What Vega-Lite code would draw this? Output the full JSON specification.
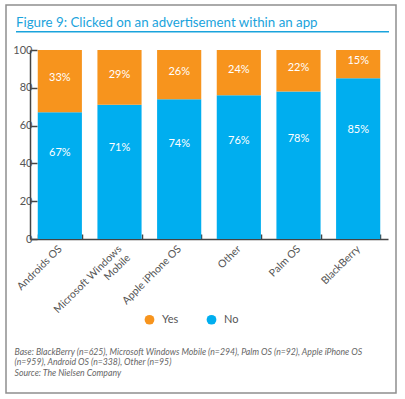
{
  "$schema": "https://vega.github.io/schema/vega-lite/v6.json",
  "width": 390,
  "height": 388,
  "autosize": {"type": "none"},
  "padding": {"left": 6, "top": 5, "right": 9, "bottom": 6},
  "background": "white",
  "title": {
    "text": "Figure 9: Clicked on an advertisement within an app",
    "anchor": "start",
    "frame": "group",
    "orient": "top",
    "offset": 0,
    "dx": 10,
    "dy": 35.5,
    "baseline": "alphabetic",
    "font": "Lato",
    "fontSize": 13.3,
    "fontWeight": "normal",
    "color": "#1AA3DC"
  },
  "config": {
    "view": {"stroke": "#8f8f8f", "strokeWidth": 1.5},
    "font": "Lato"
  },
  "datasets": {
    "survey": [
      {"os": "Androids OS", "answer": "No", "pct": 67},
      {"os": "Androids OS", "answer": "Yes", "pct": 33},
      {"os": "Microsoft Windows Mobile", "answer": "No", "pct": 71},
      {"os": "Microsoft Windows Mobile", "answer": "Yes", "pct": 29},
      {"os": "Apple iPhone OS", "answer": "No", "pct": 74},
      {"os": "Apple iPhone OS", "answer": "Yes", "pct": 26},
      {"os": "Other", "answer": "No", "pct": 76},
      {"os": "Other", "answer": "Yes", "pct": 24},
      {"os": "Palm OS", "answer": "No", "pct": 78},
      {"os": "Palm OS", "answer": "Yes", "pct": 22},
      {"os": "BlackBerry", "answer": "No", "pct": 85},
      {"os": "BlackBerry", "answer": "Yes", "pct": 15}
    ]
  },
  "resolve": {"scale": {"x": "independent"}},
  "layer": [
    {
      "data": {"name": "survey"},
      "layer": [
        {
          "mark": {"type": "bar"},
          "encoding": {
            "x": {
              "field": "os",
              "type": "nominal",
              "sort": null,
              "scale": {"range": [24, 382], "paddingInner": 0.26, "paddingOuter": 0.13},
              "axis": {
                "orient": "bottom",
                "offset": -154,
                "tickBand": "extent",
                "tickSize": -5,
                "tickColor": "#444",
                "tickWidth": 1.5,
                "domainColor": "#444",
                "domainWidth": 1.5,
                "labelAngle": -45,
                "labelAlign": "right",
                "labelBaseline": "middle",
                "labelPadding": 13,
                "labelColor": "#555",
                "labelFontSize": 10.5,
                "labelExpr": "datum.label == 'Microsoft Windows Mobile' ? ['Microsoft Windows', 'Mobile'] : datum.label",
                "title": [
                  "Base: BlackBerry (n=625), Microsoft Windows Mobile (n=294), Palm OS (n=92), Apple iPhone OS",
                  "(n=959), Android OS (n=338), Other (n=95)",
                  "Source: The Nielsen Company"
                ],
                "titleX": 8,
                "titleY": 108,
                "titleAngle": 0,
                "titleAlign": "left",
                "titleAnchor": "start",
                "titleBaseline": "top",
                "titleFont": "Lato",
                "titleFontStyle": "italic",
                "titleFontWeight": "normal",
                "titleFontSize": 8.7,
                "titleColor": "#666",
                "titleLineHeight": 10.8
              }
            },
            "y": {
              "field": "pct",
              "type": "quantitative",
              "stack": "zero",
              "scale": {"domain": [0, 100], "range": [234, 45], "nice": false},
              "axis": {
                "orient": "left",
                "offset": -24,
                "values": [0, 20, 40, 60, 80, 100],
                "tickSize": -7,
                "tickColor": "#444",
                "tickWidth": 1.5,
                "domainColor": "#444",
                "domainWidth": 1.5,
                "labelPadding": 5,
                "labelColor": "#555",
                "labelFontSize": 11,
                "grid": false,
                "title": null
              }
            },
            "color": {
              "field": "answer",
              "type": "nominal",
              "scale": {"domain": ["Yes", "No"], "range": ["#F7941D", "#00AEEF"]},
              "legend": {
                "orient": "none",
                "legendX": 138,
                "legendY": 309,
                "direction": "horizontal",
                "title": null,
                "symbolType": "circle",
                "symbolSize": 95,
                "symbolStrokeWidth": 0,
                "labelFontSize": 11,
                "labelColor": "#555",
                "columnPadding": 27,
                "labelOffset": 7
              }
            },
            "order": {"field": "answer", "sort": "ascending"}
          }
        },
        {
          "transform": [
            {"calculate": "datum.answer == 'No' ? datum.pct * 0.68 : 100 - datum.pct / 2 + 1.5", "as": "labelY"},
            {"calculate": "datum.pct + '%'", "as": "label"}
          ],
          "mark": {"type": "text", "color": "white", "fontSize": 11, "font": "Lato", "baseline": "middle"},
          "encoding": {
            "x": {"field": "os", "type": "nominal", "sort": null},
            "y": {"field": "labelY", "type": "quantitative", "stack": null},
            "text": {"field": "label", "type": "nominal"}
          }
        }
      ]
    },
    {
      "data": {"values": [{}]},
      "mark": {"type": "rule", "color": "#1AA3DC", "strokeWidth": 1.5},
      "encoding": {
        "x": {"datum": 0, "type": "quantitative", "scale": {"domain": [0, 1], "range": [10, 383]}, "axis": null},
        "x2": {"datum": 1},
        "y": {"datum": 109.6, "type": "quantitative"}
      }
    }
  ]
}
